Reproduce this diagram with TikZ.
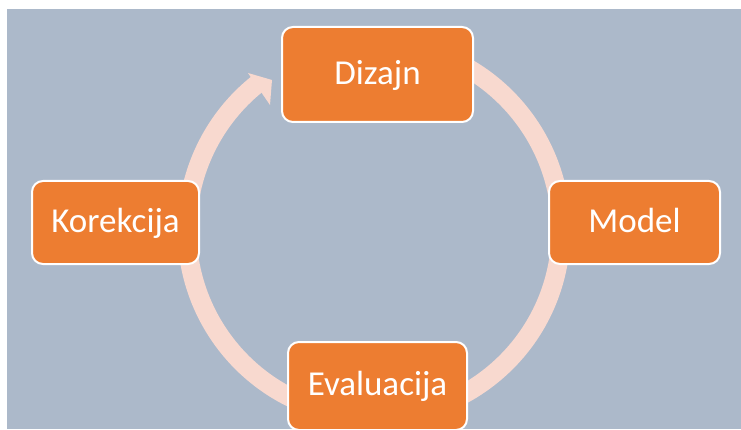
\documentclass[tikz,border=0pt]{standalone}
\usepackage{fontspec}
\setmainfont{Carlito}
\usetikzlibrary{calc}
\definecolor{bgc}{HTML}{ACB9CA}
\definecolor{boxc}{HTML}{ED7D31}
\definecolor{ringc}{RGB}{248,217,207}
\tikzset{
  stagebox/.style={rectangle, rounded corners=11pt, draw=white, line width=2pt,
    fill=boxc, text=white, inner sep=0pt, font=\fontsize{35}{42}\selectfont,
    text height=27.3pt, text depth=7.7pt},
}
\begin{document}
\begin{tikzpicture}[x=1pt,y=1pt]
\useasboundingbox (0,0) rectangle (741,429);
\begin{scope}
\clip (0,0) rectangle (741,429);
\fill[bgc] (7,0) rectangle (741,420);
\coordinate (C) at (374,199);
% ring with arrow
\draw[ringc, line width=19pt] ($(C)+(85:187)$) arc[start angle=85, end angle=-232, radius=187];
\coordinate (tip) at (272,349);
\coordinate (barbA) at (248,356);
\coordinate (barbB) at (270,324);
\fill[ringc] (barbA) -- (tip) -- (barbB) -- cycle;
% stages
\node[stagebox, minimum width=191pt, minimum height=95pt] (diz) at (377.5,354.5) {Dizajn};
\node[stagebox, minimum width=171pt, minimum height=83pt] (mod) at (634.5,206.5) {Model};
\node[stagebox, minimum width=167pt, minimum height=83pt] (kor) at (115.5,206.5) {Korekcija};
\node[stagebox, minimum width=179pt, minimum height=88pt] (eva) at (377.5,43) {Evaluacija};
\end{scope}
\end{tikzpicture}
\end{document}
